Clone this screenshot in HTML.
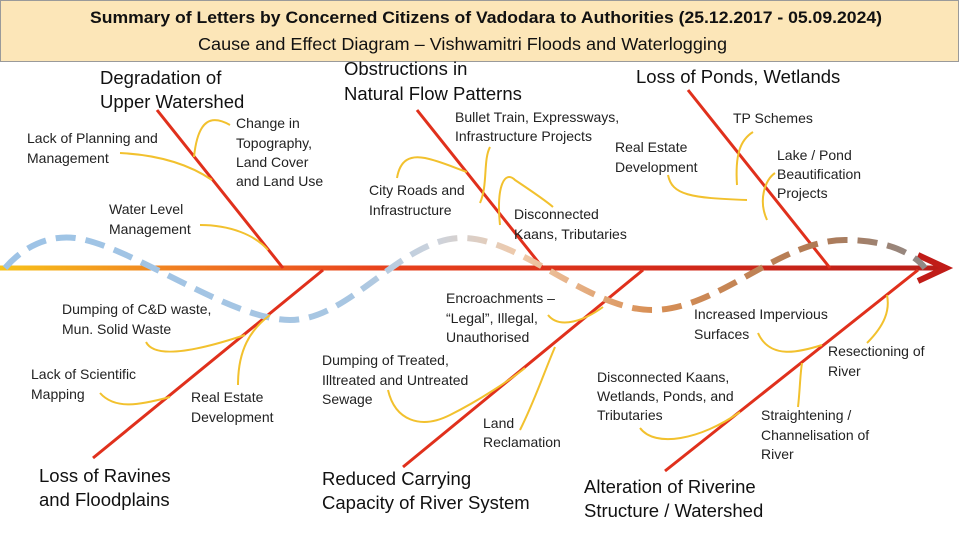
<!DOCTYPE html>
<html><head><meta charset="utf-8"><style>
html,body{margin:0;padding:0;background:#fff;}
svg{display:block;font-family:"Liberation Sans",sans-serif;}
.s{font-size:14px;fill:#222;}
.b{font-size:18.5px;fill:#111;}
</style></head><body>
<svg width="960" height="540" viewBox="0 0 960 540" xmlns="http://www.w3.org/2000/svg">
<defs>
<linearGradient id="ax" gradientUnits="userSpaceOnUse" x1="0" y1="0" x2="945" y2="0">
<stop offset="0" stop-color="#f7c21a"/><stop offset="0.2" stop-color="#f07a22"/>
<stop offset="0.4" stop-color="#e8421c"/><stop offset="0.7" stop-color="#d42a1a"/><stop offset="1" stop-color="#b81c18"/>
</linearGradient>
<linearGradient id="wv" gradientUnits="userSpaceOnUse" x1="0" y1="0" x2="930" y2="0">
<stop offset="0" stop-color="#9dc3e6"/><stop offset="0.38" stop-color="#a8c6e2"/>
<stop offset="0.47" stop-color="#cdd3dc"/><stop offset="0.56" stop-color="#f0c9a8"/>
<stop offset="0.7" stop-color="#d88f55"/><stop offset="0.88" stop-color="#b07a55"/><stop offset="1" stop-color="#8f8a8a"/>
</linearGradient>
</defs>
<rect x="0.5" y="0.5" width="958" height="61" fill="#fce6b8" stroke="#9a9a9a"/>
<text x="90" y="23" font-size="17" font-weight="bold" fill="#111" textLength="792" lengthAdjust="spacingAndGlyphs">Summary of Letters by Concerned Citizens of Vadodara to Authorities (25.12.2017 - 05.09.2024)</text>
<text x="198" y="50" font-size="17.5" fill="#111" textLength="529" lengthAdjust="spacingAndGlyphs">Cause and Effect Diagram – Vishwamitri Floods and Waterlogging</text>

<line x1="0" y1="268" x2="942" y2="268" stroke="url(#ax)" stroke-width="5"/>
<polyline points="918,255 946,268 918,281" fill="none" stroke="#c01c18" stroke-width="6" stroke-linejoin="miter"/>

<g stroke="#e0301c" stroke-width="3" fill="none">
<line x1="157" y1="110" x2="283" y2="268"/>
<line x1="417" y1="110" x2="543" y2="268"/>
<line x1="688" y1="90" x2="830" y2="268"/>
<line x1="323" y1="270" x2="93" y2="458"/>
<line x1="643" y1="270" x2="403" y2="467"/>
<line x1="918" y1="270" x2="665" y2="471"/>
</g>

<path d="M5,268 C25,245 50,235 75,238 C130,245 230,320 290,320 C350,320 400,240 460,238 C520,236 590,312 655,310 C720,308 780,240 845,240 C890,240 915,255 925,268" fill="none" stroke="url(#wv)" stroke-width="6" stroke-dasharray="20,10"/>

<g stroke="#f2c12e" stroke-width="2" fill="none">
<path d="M194,157 C198,118 212,115 230,125"/>
<path d="M120,153 C160,155 190,165 212,180"/>
<path d="M200,225 C230,225 255,235 268,250"/>
<path d="M397,178 C400,160 410,155 425,158 C440,161 455,168 467,172"/>
<path d="M480,203 C488,185 483,160 490,147"/>
<path d="M500,225 C496,185 505,170 515,180 C530,190 545,200 553,207"/>
<path d="M668,175 C672,195 690,198 747,200"/>
<path d="M737,185 C735,155 740,140 753,132"/>
<path d="M767,220 C758,200 765,180 775,173"/>
<path d="M146,342 C155,360 200,350 245,335"/>
<path d="M238,385 C238,350 250,330 270,315"/>
<path d="M100,393 C115,410 140,405 170,397"/>
<path d="M388,390 C395,420 420,430 450,415 C480,400 510,380 525,368"/>
<path d="M520,430 C535,400 545,370 555,347"/>
<path d="M548,315 C560,330 585,320 603,307"/>
<path d="M758,333 C770,360 800,352 822,345"/>
<path d="M867,343 C885,325 890,310 887,295"/>
<path d="M640,428 C655,448 700,440 740,412"/>
<path d="M798,407 C800,390 800,375 802,363"/>
</g>

<g>
<text x="100" y="84" class="b">Degradation of</text>
<text x="100" y="108" class="b">Upper Watershed</text>
<text x="344" y="75" class="b">Obstructions in</text>
<text x="344" y="100" class="b">Natural Flow Patterns</text>
<text x="636" y="83" class="b">Loss of Ponds, Wetlands</text>
<text x="39" y="482" class="b">Loss of Ravines</text>
<text x="39" y="506" class="b">and Floodplains</text>
<text x="322" y="485" class="b">Reduced Carrying</text>
<text x="322" y="509" class="b">Capacity of River System</text>
<text x="584" y="493" class="b">Alteration of Riverine</text>
<text x="584" y="517" class="b">Structure / Watershed</text>
</g>

<g>
<text x="27" y="143" class="s">Lack of Planning and</text>
<text x="27" y="163" class="s">Management</text>
<text x="236" y="128" class="s">Change in</text>
<text x="236" y="148" class="s">Topography,</text>
<text x="236" y="167" class="s">Land Cover</text>
<text x="236" y="186" class="s">and Land Use</text>
<text x="109" y="214" class="s">Water Level</text>
<text x="109" y="234" class="s">Management</text>
<text x="369" y="195" class="s">City Roads and</text>
<text x="369" y="215" class="s">Infrastructure</text>
<text x="455" y="122" class="s">Bullet Train, Expressways,</text>
<text x="455" y="141" class="s">Infrastructure Projects</text>
<text x="514" y="219" class="s">Disconnected</text>
<text x="514" y="239" class="s">Kaans, Tributaries</text>
<text x="615" y="152" class="s">Real Estate</text>
<text x="615" y="172" class="s">Development</text>
<text x="733" y="123" class="s">TP Schemes</text>
<text x="777" y="160" class="s">Lake / Pond</text>
<text x="777" y="179" class="s">Beautification</text>
<text x="777" y="198" class="s">Projects</text>
<text x="62" y="314" class="s">Dumping of C&amp;D waste,</text>
<text x="62" y="334" class="s">Mun. Solid Waste</text>
<text x="31" y="379" class="s">Lack of Scientific</text>
<text x="31" y="399" class="s">Mapping</text>
<text x="191" y="402" class="s">Real Estate</text>
<text x="191" y="422" class="s">Development</text>
<text x="446" y="303" class="s">Encroachments –</text>
<text x="446" y="323" class="s">“Legal”, Illegal,</text>
<text x="446" y="342" class="s">Unauthorised</text>
<text x="322" y="365" class="s">Dumping of Treated,</text>
<text x="322" y="385" class="s">Illtreated and Untreated</text>
<text x="322" y="404" class="s">Sewage</text>
<text x="483" y="428" class="s">Land</text>
<text x="483" y="447" class="s">Reclamation</text>
<text x="694" y="319" class="s">Increased Impervious</text>
<text x="694" y="339" class="s">Surfaces</text>
<text x="828" y="356" class="s">Resectioning of</text>
<text x="828" y="376" class="s">River</text>
<text x="597" y="382" class="s">Disconnected Kaans,</text>
<text x="597" y="401" class="s">Wetlands, Ponds, and</text>
<text x="597" y="420" class="s">Tributaries</text>
<text x="761" y="420" class="s">Straightening /</text>
<text x="761" y="440" class="s">Channelisation of</text>
<text x="761" y="459" class="s">River</text>
</g>
</svg>
</body></html>
